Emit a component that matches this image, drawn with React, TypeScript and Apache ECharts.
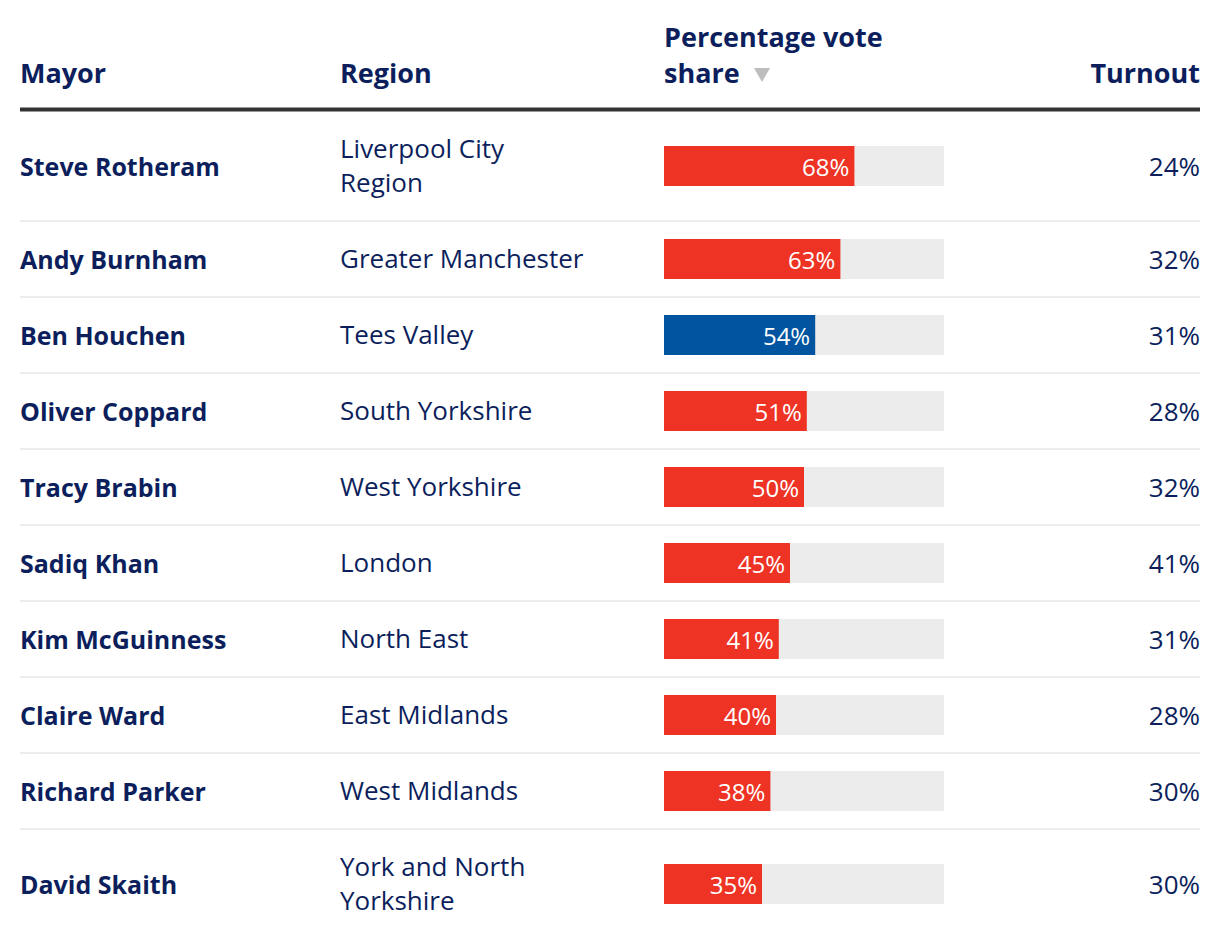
import React, { useEffect, useRef } from "react";
import * as echarts from "echarts";

const mayors = [
  "Steve Rotheram",
  "Andy Burnham",
  "Ben Houchen",
  "Oliver Coppard",
  "Tracy Brabin",
  "Sadiq Khan",
  "Kim McGuinness",
  "Claire Ward",
  "Richard Parker",
  "David Skaith",
];
const regions = [
  "Liverpool City\nRegion",
  "Greater Manchester",
  "Tees Valley",
  "South Yorkshire",
  "West Yorkshire",
  "London",
  "North East",
  "East Midlands",
  "West Midlands",
  "York and North\nYorkshire",
];
const voteShare = [68, 63, 54, 51, 50, 45, 41, 40, 38, 35];
const parties = ["Lab", "Lab", "Con", "Lab", "Lab", "Lab", "Lab", "Lab", "Lab", "Lab"];
const turnout = [24, 32, 31, 28, 32, 41, 31, 28, 30, 30];
const headers = ["Mayor", "Region", "Percentage vote\nshare", "Turnout"];

const partyColors: Record<string, string> = { Lab: "#ee3325", Con: "#0054a0" };
const NAVY = "#0c1f5c";
const FONT = "'Open Sans', 'Noto Sans', sans-serif";

export default function App() {
  const ref = useRef<HTMLDivElement>(null);
  useEffect(() => {
    if (!ref.current) return;
    const chart = echarts.init(ref.current, null, { renderer: "svg" });

    const startY = 111;
    const rowH = regions.map((r) => (r.includes("\n") ? 110 : 76));
    const tops: number[] = [];
    let acc = startY;
    rowH.forEach((h) => {
      tops.push(acc);
      acc += h;
    });
    const centers = tops.map((t, i) => t + rowH[i] / 2);

    const grids: any[] = [];
    const xAxes: any[] = [];
    const yAxes: any[] = [];
    const series: any[] = [];
    mayors.forEach((m, i) => {
      grids.push({ left: 664, width: 280, top: centers[i] - 20, height: 40 });
      xAxes.push({ type: "value", min: 0, max: 100, show: false, gridIndex: i });
      yAxes.push({ type: "category", data: [m], show: false, gridIndex: i });
      series.push({
        type: "bar",
        xAxisIndex: i,
        yAxisIndex: i,
        barWidth: 40,
        data: [{ value: voteShare[i], itemStyle: { color: partyColors[parties[i]] } }],
        showBackground: true,
        backgroundStyle: { color: "#ececec" },
        label: {
          show: true,
          position: "insideRight",
          distance: 5,
          color: "#ffffff",
          fontSize: 24,
          fontFamily: FONT,
          formatter: "{c}%",
        },
      });
    });

    const graphics: any[] = [];
    const hStyle = { fill: NAVY, font: `bold 27px ${FONT}`, textVerticalAlign: "bottom" };
    graphics.push({ type: "text", x: 20, y: 86, style: { ...hStyle, text: headers[0] } });
    graphics.push({ type: "text", x: 340, y: 86, style: { ...hStyle, text: headers[1] } });
    graphics.push({
      type: "text",
      x: 664,
      y: 90,
      style: { ...hStyle, text: headers[2], lineHeight: 36 },
    });
    graphics.push({
      type: "text",
      x: 1200,
      y: 86,
      style: { ...hStyle, text: headers[3], textAlign: "right" },
    });
    graphics.push({
      type: "polygon",
      shape: { points: [[754, 68], [770, 68], [762, 82]] },
      style: { fill: "#bdbdbd" },
    });
    graphics.push({
      type: "line",
      shape: { x1: 20, y1: 109.5, x2: 1200, y2: 109.5 },
      style: { stroke: "#333333", lineWidth: 4 },
    });
    for (let i = 1; i < mayors.length; i++) {
      graphics.push({
        type: "line",
        shape: { x1: 20, y1: tops[i], x2: 1200, y2: tops[i] },
        style: { stroke: "#ececec", lineWidth: 2 },
      });
    }
    mayors.forEach((m, i) => {
      graphics.push({
        type: "text",
        x: 20,
        y: centers[i],
        style: { text: m, fill: NAVY, font: `bold 25px ${FONT}`, textVerticalAlign: "middle" },
      });
      graphics.push({
        type: "text",
        x: 340,
        y: centers[i] - 1,
        style: {
          text: regions[i],
          fill: NAVY,
          font: `26px ${FONT}`,
          lineHeight: 34,
          textVerticalAlign: "middle",
        },
      });
      graphics.push({
        type: "text",
        x: 1200,
        y: centers[i],
        style: {
          text: `${turnout[i]}%`,
          fill: NAVY,
          font: `26px ${FONT}`,
          textAlign: "right",
          textVerticalAlign: "middle",
        },
      });
    });

    chart.setOption({
      animation: false,
      backgroundColor: "#ffffff",
      grid: grids,
      xAxis: xAxes,
      yAxis: yAxes,
      series,
      graphic: graphics,
    });
    return () => chart.dispose();
  }, []);
  return (
    <div
      ref={ref}
      style={{ position: "absolute", left: 0, top: 0, width: 1220, height: 948 }}
    />
  );
}
